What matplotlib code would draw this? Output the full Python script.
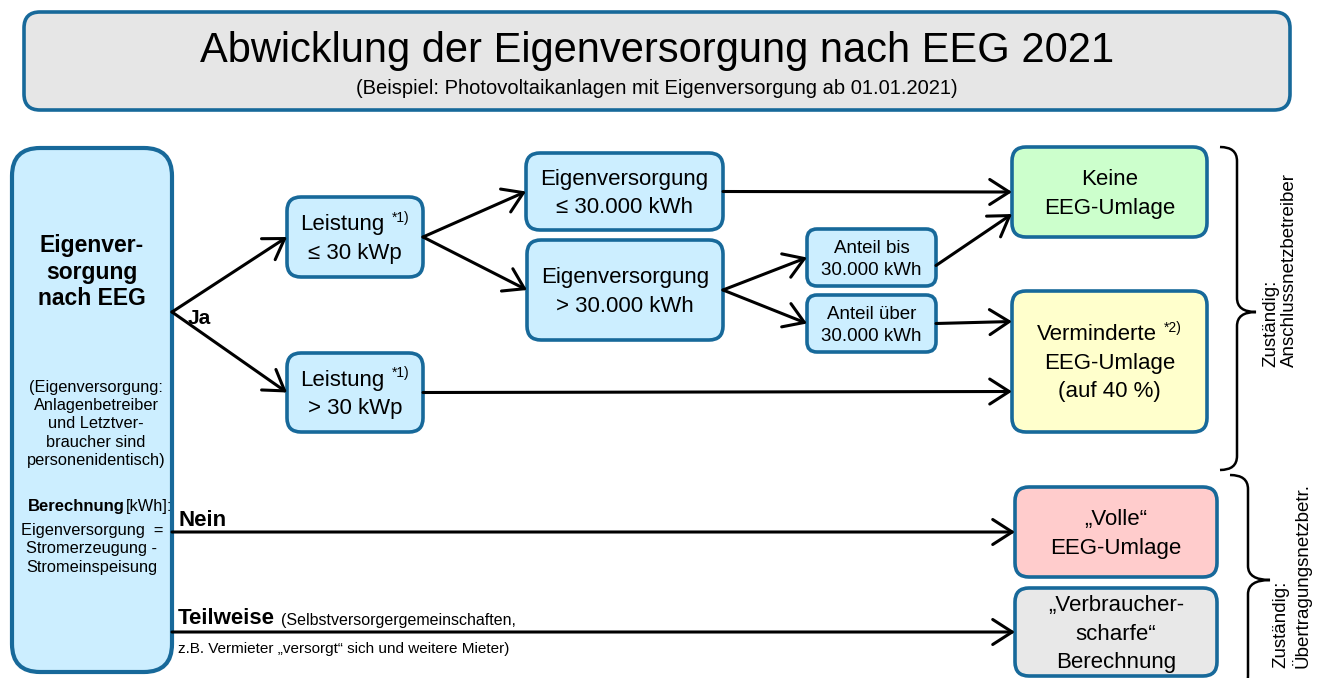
import matplotlib
matplotlib.use("Agg")
import matplotlib.pyplot as plt
from matplotlib.patches import FancyBboxPatch, FancyArrowPatch, PathPatch
from matplotlib.path import Path

plt.rcParams['font.family'] = ['Liberation Sans', 'DejaVu Sans']

# --- chart text ---
title = "Abwicklung der Eigenversorgung nach EEG 2021"
subtitle = "(Beispiel: Photovoltaikanlagen mit Eigenversorgung ab 01.01.2021)"
left_head = "Eigenver-\nsorgung\nnach EEG"
left_note = "(Eigenversorgung:\nAnlagenbetreiber\nund Letztver-\nbraucher sind\npersonenidentisch)"
left_calc = "Eigenversorgung  =\nStromerzeugung -\nStromeinspeisung"
branch_labels = ["Ja", "Nein", "Teilweise"]
teilweise_note = ["(Selbstversorgergemeinschaften,",
                  "z.B. Vermieter \u201eversorgt\u201c sich und weitere Mieter)"]
resp_labels = ["Zuständig:\nAnschlussnetzbetreiber",
               "Zuständig:\nÜbertragungsnetzbetr."]

# node name -> label lines
labels = {
    "p_low": ["Leistung", "≤ 30 kWp"],
    "p_high": ["Leistung", "> 30 kWp"],
    "e_low": ["Eigenversorgung", "≤ 30.000 kWh"],
    "e_high": ["Eigenversorgung", "> 30.000 kWh"],
    "a_bis": ["Anteil bis", "30.000 kWh"],
    "a_ueber": ["Anteil über", "30.000 kWh"],
    "keine": ["Keine", "EEG-Umlage"],
    "vermind": ["Verminderte", "EEG-Umlage", "(auf 40 %)"],
    "volle": ["\u201eVolle\u201c", "EEG-Umlage"],
    "verbr": ["\u201eVerbraucher-", "scharfe\u201c", "Berechnung"],
}
# footnote marks on the first line
footnotes = {"p_low": "*1)", "p_high": "*1)", "vermind": "*2)"}

# --- layout (pixel coordinates: x0, y0, x1, y1) ---
boxes = {
    "p_low": (287, 197, 423, 277),
    "p_high": (287, 353, 423, 432),
    "e_low": (526, 153, 723, 230),
    "e_high": (527, 240, 723, 340),
    "a_bis": (807, 229, 936, 286),
    "a_ueber": (807, 295, 936, 352),
    "keine": (1012, 147, 1207, 237),
    "vermind": (1012, 291, 1207, 432),
    "volle": (1015, 487, 1217, 577),
    "verbr": (1015, 588, 1217, 676),
}
fills = {
    "keine": "#ccffcc", "vermind": "#ffffcc", "volle": "#ffcccc", "verbr": "#e8e8e8",
}
small = {"a_bis", "a_ueber"}
EDGE = "#17699a"
BLUE = "#cceeff"

fig = plt.figure(figsize=(13.27, 6.78), dpi=100)
ax = fig.add_axes([0, 0, 1, 1])
ax.set_xlim(0, 1327)
ax.set_ylim(678, 0)
ax.axis("off")
renderer = fig.canvas.get_renderer()


def rbox(x0, y0, x1, y1, fc, r=12, lw=2.6):
    p = FancyBboxPatch((x0, y0), x1 - x0, y1 - y0,
                       boxstyle=f"round,pad=0,rounding_size={r}",
                       fc=fc, ec=EDGE, lw=lw, zorder=2)
    ax.add_patch(p)


def arrow(p0, p1):
    a = FancyArrowPatch(p0, p1, arrowstyle="->,head_length=0.7,head_width=0.45",
                        mutation_scale=20, lw=2.2, color="black",
                        shrinkA=0, shrinkB=0, zorder=3)
    ax.add_patch(a)


def width_px(t):
    return t.get_window_extent(renderer).width


# title box
rbox(24, 12, 1290, 110, "#e6e6e6", r=16, lw=2.6)
ax.text(657, 51, title, ha="center", va="center", fontsize=30)
ax.text(657, 89, subtitle, ha="center", va="center", fontsize=14.5)

# left box
rbox(12, 148, 172, 672, BLUE, r=28, lw=3)
ax.text(92, 272, left_head, ha="center", va="center", fontsize=16.5,
        fontweight="bold", linespacing=1.21)
ax.text(96, 424, left_note, ha="center", va="center", fontsize=11.8, linespacing=1.27)
ax.text(125, 507, "Berechnung", ha="right", va="center", fontsize=12, fontweight="bold")
ax.text(126, 507, "[kWh]:", ha="left", va="center", fontsize=11.8)
ax.text(92, 549, left_calc, ha="center", va="center", fontsize=11.8, linespacing=1.27)

# nodes
for key, (x0, y0, x1, y1) in boxes.items():
    rbox(x0, y0, x1, y1, fills.get(key, BLUE), r=10 if key in small else 14)
    fs = 13.5 if key in small else 16
    step = 22 if key in small else 28.5
    lines = labels[key]
    cx, cy = (x0 + x1) / 2, (y0 + y1) / 2 + 2
    for i, line in enumerate(lines):
        y = cy + (i - (len(lines) - 1) / 2) * step
        if i == 0 and key in footnotes:
            sup = ax.text(0, 0, footnotes[key], fontsize=10, ha="left", va="center", zorder=4)
            main = ax.text(0, 0, line, fontsize=fs, ha="left", va="center", zorder=4)
            gap = 7
            total = width_px(main) + gap + width_px(sup)
            xs = cx - total / 2
            main.set_position((xs, y))
            sup.set_position((xs + width_px(main) + gap, y - 7))
        else:
            ax.text(cx, y, line, ha="center", va="center", fontsize=fs, zorder=4)


def left(k, dy=0):
    x0, y0, x1, y1 = boxes[k]
    return (x0, (y0 + y1) / 2 + dy)


def right(k, dy=0):
    x0, y0, x1, y1 = boxes[k]
    return (x1, (y0 + y1) / 2 + dy)


fork = (172, 312)
arrow(fork, left("p_low"))
arrow(fork, left("p_high"))
arrow(right("p_low"), left("e_low"))
arrow(right("p_low"), left("e_high"))
arrow(right("e_low"), left("keine"))
arrow(right("e_high"), left("a_bis"))
arrow(right("e_high"), left("a_ueber"))
arrow(right("a_bis", 8), left("keine", 22))
arrow(right("a_ueber"), left("vermind", -40))
arrow(right("p_high"), left("vermind", 30))
arrow((172, left("volle")[1]), left("volle"))
arrow((172, left("verbr")[1]), left("verbr"))

ax.text(188, 318, branch_labels[0], ha="left", va="center", fontsize=15, fontweight="bold")
ax.text(178, 520, branch_labels[1], ha="left", va="center", fontsize=16, fontweight="bold")
tw = ax.text(178, 619, branch_labels[2], ha="left", va="center", fontsize=16, fontweight="bold")
ax.text(178 + width_px(tw) + 6, 620, teilweise_note[0], ha="left", va="center", fontsize=11.5)
ax.text(178, 649, teilweise_note[1], ha="left", va="center", fontsize=11)


def brace(xl, xm, xt, ytop, ymid, ybot, r=14):
    verts = [(xl, ytop), (xm, ytop), (xm, ytop + r),
             (xm, ymid - r), (xm, ymid), (xt, ymid),
             (xm, ymid), (xm, ymid + r),
             (xm, ybot - r), (xm, ybot), (xl, ybot)]
    codes = [Path.MOVETO, Path.CURVE3, Path.CURVE3,
             Path.LINETO, Path.CURVE3, Path.CURVE3,
             Path.CURVE3, Path.CURVE3,
             Path.LINETO, Path.CURVE3, Path.CURVE3]
    ax.add_patch(PathPatch(Path(verts, codes), fc="none", ec="black", lw=1.8, zorder=3))


brace(1220, 1237, 1256, 147, 312, 470)
brace(1230, 1248, 1270, 475, 580, 690)

ax.text(1280, 270, resp_labels[0], rotation=90, ha="center", va="center",
        fontsize=13.5, multialignment="left", linespacing=1.1)
ax.text(1292, 575, resp_labels[1], rotation=90, ha="center", va="center",
        fontsize=13.5, multialignment="left", linespacing=1.1)

fig.savefig("out.png", dpi=100)
